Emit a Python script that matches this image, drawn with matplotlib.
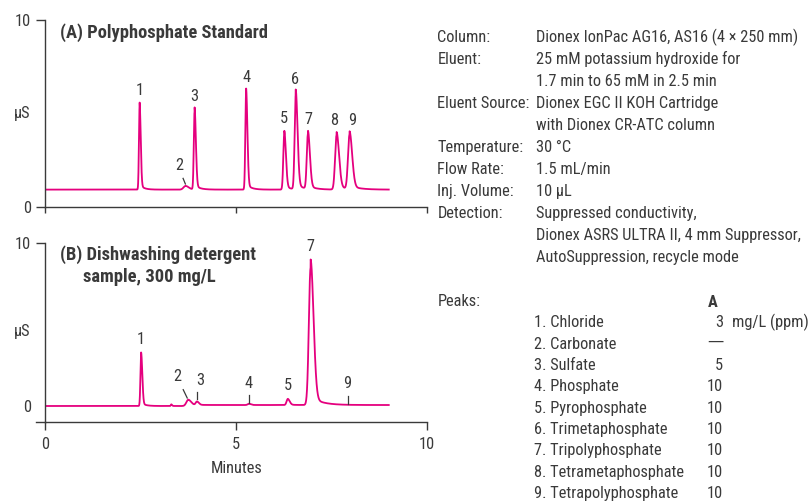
import numpy as np
import matplotlib
matplotlib.use("Agg")
import matplotlib.pyplot as plt
from matplotlib.transforms import blended_transform_factory

plt.rcParams['font.family'] = ['Roboto Condensed', 'Liberation Sans Narrow', 'DejaVu Sans']

# ---------------- data ----------------
# Panel A: Polyphosphate standard (peak times in min, heights in µS above baseline, widths)
a_times = [2.47, 3.67, 3.91, 5.26, 6.26, 6.56, 6.88, 7.63, 7.97]
a_heights = [4.67, 0.20, 4.40, 5.42, 3.15, 5.33, 3.10, 3.08, 3.08]
a_sigmas = [0.017, 0.05, 0.020, 0.020, 0.025, 0.028, 0.030, 0.038, 0.040]
a_baseline = 0.93
a_labels = ["1", "2", "3", "4", "5", "6", "7", "8", "9"]
a_label_x = [2.47, 3.50, 3.91, 5.26, 6.26, 6.54, 6.88, 7.56, 8.04]
a_label_y = [6.22, 2.20, 5.90, 6.94, 4.71, 6.84, 4.67, 4.64, 4.64]

# Panel B: Dishwashing detergent sample
b_times = [2.51, 3.30, 3.74, 3.97, 5.33, 6.35, 6.95]
b_heights = [3.28, 0.10, 0.36, 0.22, 0.08, 0.38, 8.92]
b_sigmas = [0.018, 0.012, 0.045, 0.030, 0.030, 0.030, 0.045]
b_baseline = 0.0
b_labels = ["1", "2", "3", "4", "5", "7", "9"]
b_label_x = [2.51, 3.46, 4.06, 5.33, 6.35, 6.95, 7.92]
b_label_y = [4.06, 1.79, 1.58, 1.37, 1.23, 9.77, 1.37]

run_end = 9.0

conditions = [
    ("Column:", "Dionex IonPac AG16, AS16 (4 × 250 mm)"),
    ("Eluent:", "25 mM potassium hydroxide for"),
    ("", "1.7 min to 65 mM in 2.5 min"),
    ("Eluent Source:", "Dionex EGC II KOH Cartridge"),
    ("", "with Dionex CR-ATC column"),
    ("Temperature:", "30 °C"),
    ("Flow Rate:", "1.5 mL/min"),
    ("Inj. Volume:", "10 µL"),
    ("Detection:", "Suppressed conductivity,"),
    ("", "Dionex ASRS ULTRA II, 4 mm Suppressor,"),
    ("", "AutoSuppression, recycle mode"),
]
peak_names = ["1. Chloride", "2. Carbonate", "3. Sulfate", "4. Phosphate",
              "5. Pyrophosphate", "6. Trimetaphosphate", "7. Tripolyphosphate",
              "8. Tetrametaphosphate", "9. Tetrapolyphosphate"]
peak_conc = ["3", "—", "5", "10", "10", "10", "10", "10", "10"]

# ---------------- style ----------------
TRACE = "#E5007E"
INK = "#3a3a3a"
FS = 11.8
FS_TITLE = 13.3


def chromatogram(t, times, heights, sigmas, base):
    y = np.full_like(t, base)
    for t0, h, s in zip(times, heights, sigmas):
        sl, sr = s, s * 1.7
        d = t - t0
        g = np.where(d < 0, np.exp(-0.5 * (d / sl) ** 2), np.exp(-0.5 * (d / sr) ** 2))
        tail = np.where(d > 0, 0.06 * np.exp(-d / (6 * s)), 0.0)
        y += h * (g * 0.94 + tail)
    return y


t = np.arange(0, run_end, 0.002)
ya = chromatogram(t, a_times, a_heights, a_sigmas, a_baseline)
yb = chromatogram(t, b_times, b_heights, b_sigmas, b_baseline)
yb += np.where(t > 3.6, 0.06, 0.0) * (1 - np.exp(-np.clip(t - 3.6, 0, None) / 0.2))

fig = plt.figure(figsize=(8.1, 5.04), dpi=100)
W, H = 810, 504


def px(x, y):
    return x / W, 1 - y / H


axA = fig.add_axes([45.3 / W, 1 - 207 / H, 381.7 / W, 187 / H])
axB = fig.add_axes([45.3 / W, 1 - 422 / H, 381.7 / W, 179.3 / H])

for ax in (axA, axB):
    ax.set_xlim(0, 10)
    for s in ("top", "right"):
        ax.spines[s].set_visible(False)
    for s in ("left", "bottom"):
        ax.spines[s].set_color(INK)
        ax.spines[s].set_linewidth(1.0)
    ax.set_xticks([0, 5, 10])
    ax.tick_params(axis='y', length=6.5, width=1.0, color=INK, labelcolor=INK,
                   labelsize=FS, pad=4)
    ax.tick_params(axis='x', length=6.0, width=1.0, color=INK, labelcolor=INK,
                   labelsize=FS, pad=5)

axA.set_ylim(0, 10)
axA.set_yticks([0, 10])
axA.set_xticklabels([])
axA.tick_params(axis='x', length=4)
axA.plot(t, ya, color=TRACE, lw=1.3)

axB.set_ylim(-0.98, 10)
axB.set_yticks([0, 10])
axB.yaxis.get_major_ticks()[0].tick1line.set_visible(False)
axB.plot([-0.024, 0], [0, 0], transform=axB.transAxes, color=INK, lw=1.0, clip_on=False)
axB.plot(t, yb, color=TRACE, lw=1.3)
axB.set_xlabel("Minutes", fontsize=FS, color=INK, labelpad=6)

# µS labels
for ax, yv in ((axA, 5.0), (axB, 4.55)):
    tr = blended_transform_factory(ax.transAxes, ax.transData)
    ax.text(-0.06, yv, "µS", transform=tr, ha='center', va='center', fontsize=FS, color=INK)

# peak labels
for lab, x, y in zip(a_labels, a_label_x, a_label_y):
    axA.text(x, y, lab, ha='center', va='center', fontsize=FS, color=INK)
for lab, x, y in zip(b_labels, b_label_x, b_label_y):
    axB.text(x, y, lab, ha='center', va='center', fontsize=FS, color=INK)

# leader lines
axA.plot([3.61, 3.67], [1.53, 1.23], color=INK, lw=0.9)
axB.plot([3.613, 3.718], [1.00, 0.49], color=INK, lw=0.9)
for x, y0, y1 in ((3.97, 0.86, 0.41), (5.33, 0.67, 0.18), (7.92, 0.61, 0.15)):
    axB.plot([x, x], [y0, y1], color=INK, lw=0.9)

# panel titles
fig.text(*px(60, 32.3), "(A) Polyphosphate Standard", fontsize=FS_TITLE, fontweight='bold',
         color=INK, ha='left', va='center')
fig.text(*px(60, 255), "(B) Dishwashing detergent", fontsize=FS_TITLE, fontweight='bold',
         color=INK, ha='left', va='center')
fig.text(*px(82.7, 277.3), "sample, 300 mg/L", fontsize=FS_TITLE, fontweight='bold',
         color=INK, ha='left', va='center')

# conditions block
y0 = 37.3
for i, (k, v) in enumerate(conditions):
    yy = y0 + i * 22.0
    if k:
        fig.text(*px(437.3, yy), k, fontsize=FS, color=INK, ha='left', va='center')
    fig.text(*px(536, yy), v, fontsize=FS, color=INK, ha='left', va='center')

fig.text(*px(437.3, 301.7), "Peaks:", fontsize=FS, color=INK, ha='left', va='center')
fig.text(*px(713, 302.7), "A", fontsize=FS, fontweight='bold', color=INK, ha='center', va='center')
for i, (n, c) in enumerate(zip(peak_names, peak_conc)):
    yy = 322.7 + i * 21.33
    fig.text(*px(534, yy), n, fontsize=FS, color=INK, ha='left', va='center')
    if c == "—":
        fig.text(*px(723.3, yy - 3), c, fontsize=FS, color=INK, ha='right', va='center',
                 family=['DejaVu Sans'])
    else:
        fig.text(*px(723.3, yy), c, fontsize=FS, color=INK, ha='right', va='center')
fig.text(*px(731.7, 322.7), "mg/L (ppm)", fontsize=FS, color=INK, ha='left', va='center')

fig.savefig("out.png", dpi=100, facecolor='white')
